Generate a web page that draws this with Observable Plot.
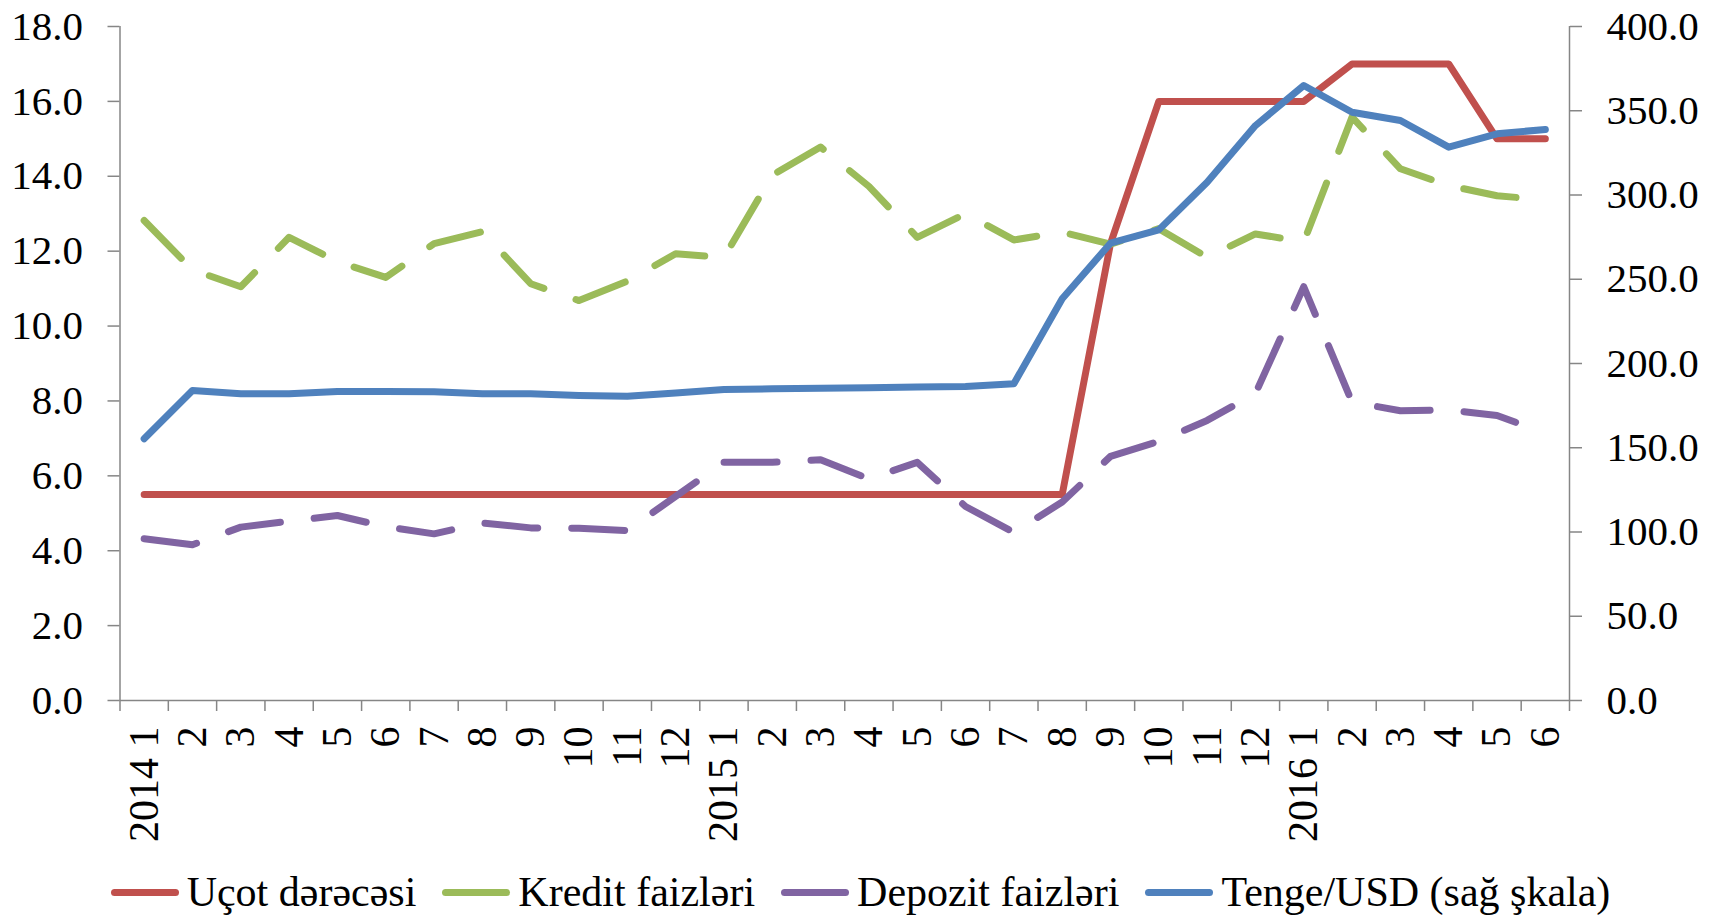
<!DOCTYPE html>
<html><head><meta charset="utf-8">
<script src="https://cdn.jsdelivr.net/npm/d3@7"></script>
<script src="https://cdn.jsdelivr.net/npm/@observablehq/plot@0.6"></script>
<style>
html,body{margin:0;padding:0;background:#fff;}
#wrap{position:relative;width:1721px;height:917px;overflow:hidden;font-family:"Liberation Serif","Times New Roman",serif;}
#chart svg{display:block;}
#legend{position:absolute;left:0;top:864px;width:1721px;height:56px;display:flex;justify-content:center;align-items:center;gap:26px;font-size:42px;color:#000;line-height:1;}
.item{display:flex;align-items:center;white-space:nowrap;}
.sw{width:68px;height:7px;border-radius:4px;margin-right:8px;}
</style></head><body><div id="wrap"><div id="chart"></div><div id="legend"></div></div>
<script>
const monthLabels = ["2014 1","2","3","4","5","6","7","8","9","10","11","12",
  "2015 1","2","3","4","5","6","7","8","9","10","11","12",
  "2016 1","2","3","4","5","6"];
const ucot = [5.5,5.5,5.5,5.5,5.5,5.5,5.5,5.5,5.5,5.5,5.5,5.5,5.5,5.5,5.5,5.5,5.5,5.5,5.5,5.5,
  12.2,16,16,16,16,17,17,17,15,15];
const kredit = [12.82,11.5,11.05,12.37,11.72,11.3,12.2,12.52,11.13,10.68,11.2,11.93,11.83,14.03,14.78,
  13.73,12.37,13.0,12.3,12.51,12.19,12.6,11.84,12.46,12.25,15.58,14.2,13.75,13.48,13.37];
const depozit = [4.32,4.16,4.63,4.79,4.94,4.64,4.45,4.74,4.61,4.6,4.54,5.45,6.36,6.36,6.43,
  5.92,6.36,5.18,4.49,5.3,6.52,6.92,7.48,8.2,11.05,7.97,7.74,7.76,7.61,7.14];
const tenge = [155.3,184,182,182,183.4,183.4,183.2,182,182,181,180.6,182.5,184.6,185,185.3,
  185.6,186,186.3,188,238.4,271.4,279.3,307.6,341.2,365,349.1,344.2,328.4,336.3,338.9];
const leftTicks = [0,2,4,6,8,10,12,14,16,18];
const rightTicks = [0,50,100,150,200,250,300,350,400];
const seriesNames = ["Uçot dərəcəsi","Kredit faizləri","Depozit faizləri","Tenge/USD (sağ şkala)"];
const colors = ["#C0504D","#9BBB59","#8064A2","#4F81BD"];

const k = 18 / 400; // right scale -> left scale
const idx = d3.range(monthLabels.length);
const bounds = d3.range(monthLabels.length + 1).map(i => i - 0.5);
const axisGray = "#868686";
const lineOpts = {strokeWidth: 7, strokeLinejoin: "round", strokeLinecap: "round"};
const dash = "53,34";

const chart = Plot.plot({
  width: 1721,
  height: 860,
  marginLeft: 119.5,
  marginRight: 152,
  marginTop: 26,
  marginBottom: 160,
  style: {fontFamily: "'Liberation Serif','Times New Roman',serif", background: "#fff", color: "#000"},
  x: {type: "linear", domain: [-0.5, monthLabels.length - 0.5]},
  y: {domain: [0, 18]},
  marks: [
    Plot.axisY(leftTicks, {anchor: "left", tickSize: 12, tickPadding: 25, stroke: axisGray, strokeWidth: 1.5, fill: "#000", fontSize: 41, tickFormat: d => d.toFixed(1)}),
    Plot.axisY(rightTicks.map(v => v * k), {anchor: "right", tickSize: 12, tickPadding: 25, stroke: axisGray, strokeWidth: 1.5, fill: "#000", fontSize: 41, tickFormat: d => (d / k).toFixed(1)}),
    Plot.axisX(bounds, {anchor: "bottom", tickSize: 11, stroke: axisGray, strokeWidth: 1.5, tickFormat: () => ""}),
    Plot.axisX(idx, {anchor: "bottom", tickSize: 0, tickPadding: 26, tickRotate: -90, fill: "#000", fontSize: 42, tickFormat: i => monthLabels[i]}),
    Plot.ruleX([-0.5, monthLabels.length - 0.5], {stroke: axisGray, strokeWidth: 1.5}),
    Plot.ruleY([0], {stroke: axisGray, strokeWidth: 1.5}),
    Plot.line(idx, {x: i => i, y: i => ucot[i], stroke: colors[0], ...lineOpts}),
    Plot.line(idx, {x: i => i, y: i => kredit[i], stroke: colors[1], strokeDasharray: dash, ...lineOpts}),
    Plot.line(idx, {x: i => i, y: i => depozit[i], stroke: colors[2], strokeDasharray: dash, ...lineOpts}),
    Plot.line(idx, {x: i => i, y: i => tenge[i] * k, stroke: colors[3], ...lineOpts})
  ]
});
document.getElementById("chart").appendChild(chart);

const legend = document.getElementById("legend");
seriesNames.forEach((name, j) => {
  const item = document.createElement("div");
  item.className = "item";
  const sw = document.createElement("div");
  sw.className = "sw";
  sw.style.background = colors[j];
  const t = document.createElement("span");
  t.textContent = name;
  item.appendChild(sw);
  item.appendChild(t);
  legend.appendChild(item);
});
</script>
</body></html>
